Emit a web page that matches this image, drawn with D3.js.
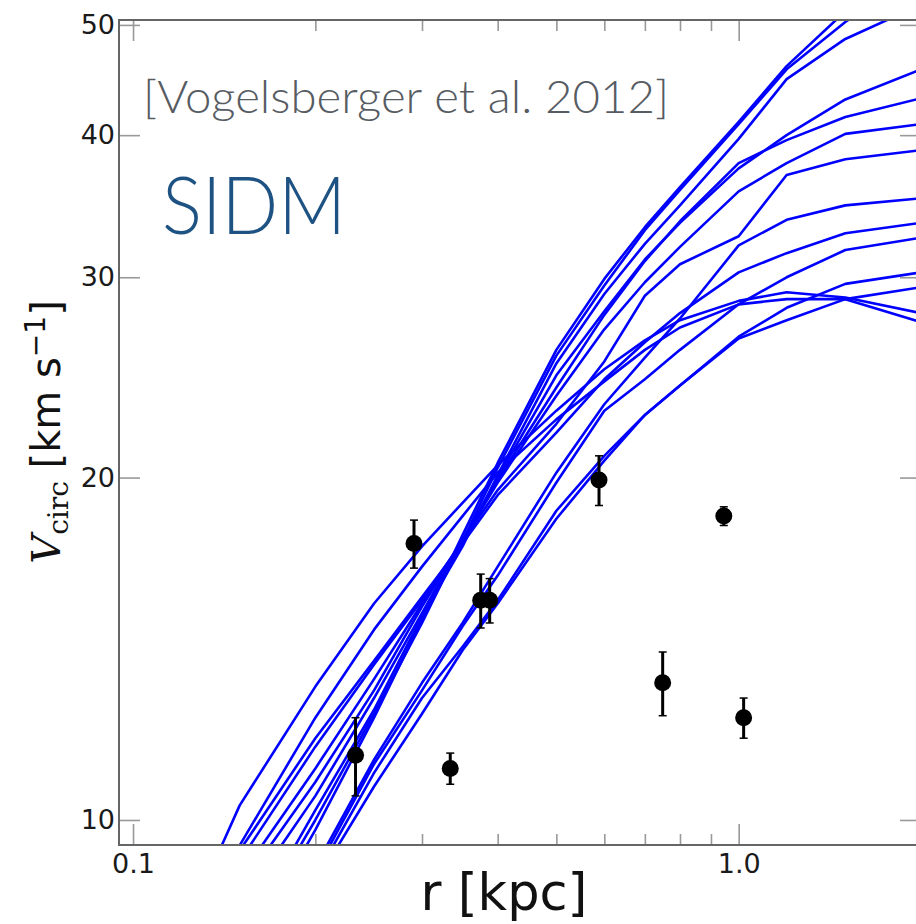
<!DOCTYPE html>
<html>
<head>
<meta charset="utf-8">
<script src="https://cdn.jsdelivr.net/npm/d3@7"></script>
<style>
  body { margin: 0; background: #fff; }
  svg { display: block; }
</style>
</head>
<body>
<svg id="chart" width="916" height="924"></svg>
<script>
// Radii (kpc) at which every simulated rotation curve is sampled
const radii = [0.12, 0.15, 0.2, 0.25, 0.3, 0.35, 0.4, 0.5, 0.6, 0.7, 0.8, 1.0, 1.2, 1.5, 2.0];

// Circular velocity (km/s) of each simulated subhalo
const haloA  = [5.9, 7.5, 9.8, 12.3, 15.0, 17.8, 20.6, 25.9, 29.9, 33.2, 36.0, 41.1, 46.0, 51.4, 57.7];
const haloB  = [6.0, 7.7, 10.0, 12.4, 14.9, 17.6, 20.4, 25.6, 29.5, 33.0, 35.8, 40.9, 45.7, 50.3, 55.8];
const haloC  = [6.1, 7.8, 10.2, 12.5, 15.1, 17.4, 20.1, 25.2, 29.0, 32.1, 34.7, 39.7, 44.8, 48.6, 52.1];
const haloD  = [6.6, 8.4, 10.5, 12.8, 15.2, 17.6, 20.0, 24.6, 28.0, 31.1, 33.5, 37.4, 40.0, 43.0, 45.7];
const haloE  = [6.9, 8.7, 10.8, 13.0, 15.4, 17.6, 19.9, 24.0, 27.8, 31.0, 33.6, 37.8, 39.6, 41.5, 43.1];
const haloF  = [7.1, 8.9, 11.1, 13.3, 15.5, 17.6, 19.8, 23.6, 27.0, 29.7, 31.9, 35.7, 37.8, 40.1, 40.9];
const haloG  = [7.3, 9.2, 11.6, 13.7, 15.6, 17.6, 19.5, 22.3, 25.3, 28.9, 30.8, 32.6, 36.9, 38.1, 38.8];
const haloH  = [5.6, 7.0, 9.1, 11.3, 13.2, 14.9, 16.7, 20.2, 23.2, 25.5, 27.6, 32.0, 33.7, 34.7, 35.2];
const haloI  = [7.5, 9.4, 11.8, 13.8, 15.7, 17.5, 19.3, 21.9, 24.4, 26.3, 27.9, 30.3, 31.5, 32.8, 33.5];
const haloJ  = [5.5, 6.9, 9.0, 11.2, 13.0, 14.8, 16.4, 19.8, 22.9, 24.4, 25.9, 28.4, 30.0, 31.7, 32.5];
const haloK  = [5.3, 6.8, 8.9, 11.0, 12.8, 14.2, 15.6, 18.7, 20.9, 22.7, 24.1, 26.6, 28.2, 29.6, 30.3];
const haloL  = [5.2, 6.7, 8.8, 10.7, 12.4, 14.1, 15.5, 18.4, 20.7, 22.7, 24.1, 26.5, 27.5, 28.7, 29.4];
const haloM  = [7.9, 10.3, 13.1, 15.5, 17.4, 19.0, 20.5, 22.9, 24.9, 26.4, 27.5, 28.6, 29.1, 28.8, 27.9];
const haloN  = [7.8, 9.5, 12.3, 14.7, 16.7, 18.5, 20.2, 22.5, 24.3, 25.9, 27.1, 28.4, 28.7, 28.7, 27.4];
const haloes = [haloA, haloB, haloC, haloD, haloE, haloF, haloG, haloH, haloI, haloJ, haloK, haloL, haloM, haloN];

// Observed dwarf spheroidals: half-light radius, velocity and its uncertainty
const obsR   = [0.233, 0.291, 0.334, 0.375, 0.388, 0.588, 0.749, 0.945, 1.019];
const obsV   = [11.4, 17.5, 11.1, 15.6, 15.6, 19.9, 13.2, 18.5, 12.3];
const obsErr = [0.9, 0.85, 0.35, 0.85, 0.7, 1.0, 0.85, 0.35, 0.5];

// Axis ticks
const xMajor = [0.1, 1.0];
const xMinor = [0.2, 0.3, 0.4, 0.5, 0.6, 0.7, 0.8, 0.9, 2.0];
const yMajor = [10, 20, 30, 40, 50];

const svg = d3.select('#chart');
const plot = { left: 119, right: 921, top: 20, bottom: 845 };

const x = d3.scaleLog().domain([0.0948, 2.0]).range([plot.left, plot.right]);
const y = d3.scaleLog().domain([9.506, 50.5]).range([plot.bottom, plot.top]);

svg.append('defs').append('clipPath').attr('id', 'plot-clip')
  .append('rect')
  .attr('x', plot.left).attr('y', plot.top)
  .attr('width', plot.right - plot.left).attr('height', plot.bottom - plot.top);

// Simulated rotation curves
const curve = d3.line()
  .x((d, i) => x(radii[i]))
  .y(d => y(d));

svg.append('g').attr('clip-path', 'url(#plot-clip)')
  .selectAll('path').data(haloes).join('path')
  .attr('d', curve)
  .attr('fill', 'none')
  .attr('stroke', '#0000ff')
  .attr('stroke-width', 2.6)
  .attr('stroke-linejoin', 'round');

// Observations with error bars
const obs = obsR.map((r, i) => ({ r, v: obsV[i], e: obsErr[i] }));
const og = svg.append('g').attr('clip-path', 'url(#plot-clip)');
og.selectAll('line.err').data(obs).join('line')
  .attr('class', 'err')
  .attr('x1', d => x(d.r)).attr('x2', d => x(d.r))
  .attr('y1', d => y(d.v - d.e)).attr('y2', d => y(d.v + d.e))
  .attr('stroke', '#000').attr('stroke-width', 3);
['lo', 'hi'].forEach(side => {
  og.selectAll('line.cap-' + side).data(obs).join('line')
    .attr('class', 'cap-' + side)
    .attr('x1', d => x(d.r) - 4).attr('x2', d => x(d.r) + 4)
    .attr('y1', d => y(side === 'lo' ? d.v - d.e : d.v + d.e))
    .attr('y2', d => y(side === 'lo' ? d.v - d.e : d.v + d.e))
    .attr('stroke', '#000').attr('stroke-width', 1.5);
});
og.selectAll('circle').data(obs).join('circle')
  .attr('cx', d => x(d.r)).attr('cy', d => y(d.v))
  .attr('r', 8.5).attr('fill', '#000');

// Axes: inward major and minor ticks on all four sides
const tickFont = g => g.selectAll('text')
  .attr('font-family', 'DejaVu Sans').attr('font-size', 27).attr('fill', '#1a1a1a');
const tickStyle = g => {
  g.select('.domain').remove();
  g.selectAll('.tick line').attr('stroke', '#999').attr('stroke-width', 1.6);
};

svg.append('g').attr('transform', `translate(0,${plot.bottom})`)
  .call(d3.axisBottom(x).tickValues(xMajor).tickSize(-21).tickPadding(9).tickFormat(d3.format('.1f')))
  .call(tickStyle).call(tickFont);
svg.append('g').attr('transform', `translate(0,${plot.bottom})`)
  .call(d3.axisBottom(x).tickValues(xMinor).tickSize(-11).tickFormat(''))
  .call(tickStyle);
svg.append('g').attr('transform', `translate(0,${plot.top})`)
  .call(d3.axisTop(x).tickValues(xMajor).tickSize(-21).tickFormat(''))
  .call(tickStyle);
svg.append('g').attr('transform', `translate(0,${plot.top})`)
  .call(d3.axisTop(x).tickValues(xMinor).tickSize(-11).tickFormat(''))
  .call(tickStyle);
svg.append('g').attr('transform', `translate(${plot.left},0)`)
  .call(d3.axisLeft(y).tickValues(yMajor).tickSize(-21).tickPadding(4).tickFormat(d3.format('d')))
  .call(tickStyle).call(tickFont);
svg.append('g').attr('transform', `translate(${plot.right},0)`)
  .call(d3.axisRight(y).tickValues(yMajor).tickSize(-21).tickFormat(''))
  .call(tickStyle);

// Frame
svg.append('rect')
  .attr('x', plot.left).attr('y', plot.top)
  .attr('width', plot.right - plot.left).attr('height', plot.bottom - plot.top)
  .attr('fill', 'none').attr('stroke', '#666').attr('stroke-width', 2);

// Axis titles
svg.append('text')
  .attr('x', 504).attr('y', 910)
  .attr('text-anchor', 'middle')
  .attr('font-family', 'DejaVu Sans').attr('font-size', 51).attr('fill', '#111')
  .text('r [kpc]');

const ylab = svg.append('text')
  .attr('transform', 'translate(60,432) rotate(-90)')
  .attr('text-anchor', 'middle')
  .attr('font-family', 'DejaVu Sans').attr('font-size', 40).attr('fill', '#111');
ylab.append('tspan').attr('font-family', 'DejaVu Serif').attr('font-style', 'italic').text('V');
ylab.append('tspan').attr('font-family', 'DejaVu Serif').attr('font-size', 28).attr('dy', 8).text('circ');
ylab.append('tspan').attr('dy', -8).text(' [km s');
ylab.append('tspan').attr('font-size', 28).attr('dy', -15).text('\u22121');
ylab.append('tspan').attr('dy', 15).text(']');

// Annotations
svg.append('text')
  .attr('x', 143).attr('y', 113)
  .attr('font-family', 'Lato').attr('font-weight', 300).attr('font-size', 46)
  .attr('fill', '#575c63')
  .attr('textLength', 526).attr('lengthAdjust', 'spacingAndGlyphs')
  .text('[Vogelsberger et al. 2012]');
svg.append('text')
  .attr('x', 162).attr('y', 234)
  .attr('font-family', 'Lato').attr('font-weight', 300).attr('font-size', 80)
  .attr('fill', '#1d5283')
  .attr('textLength', 184).attr('lengthAdjust', 'spacingAndGlyphs')
  .text('SIDM');
</script>
</body>
</html>
